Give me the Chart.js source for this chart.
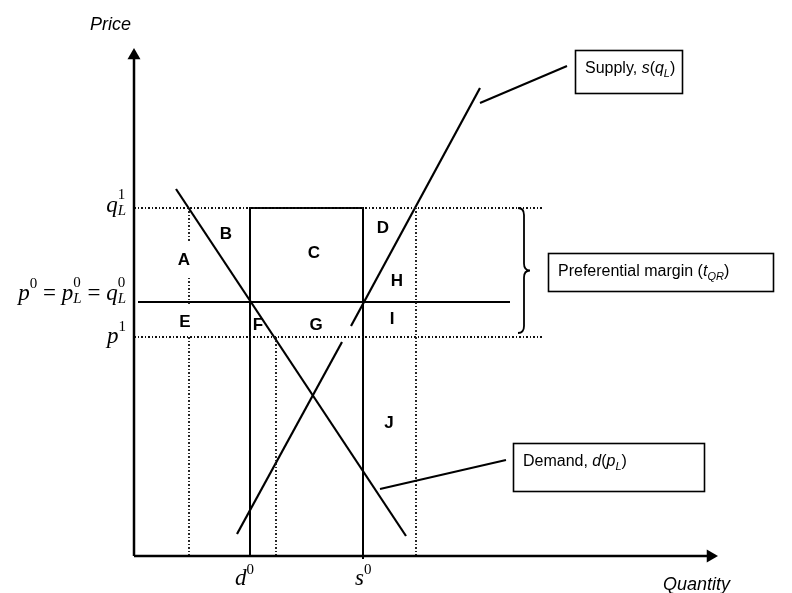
<!DOCTYPE html>
<html><head><meta charset="utf-8">
<script src="https://cdn.jsdelivr.net/npm/chart.js@4"></script>
<style>html,body{margin:0;padding:0;background:#fff}</style>
</head><body>
<canvas id="c" width="792" height="593"></canvas>
<script>
// ---------- data ----------
const xMax = 584, yMax = 508;
const d0 = 116, s0 = 229;            // quantities
const p0 = 254, p1 = 219, qL1 = 348; // prices
const dottedVX = [55, 142, 282];     // dotted vertical guides (quantity)
const dottedVTop = [348, 219, 348];  // their top price
const dottedHY = [qL1, p1];          // dotted horizontal guides
const dottedHEnd = 409;
const p0LineX = [4, 376];
const demandX = [42, 272], demandY = [367, 20];
const supplyLowX = [103, 208], supplyLowY = [22, 214];
const supplyHighX = [217, 346], supplyHighY = [230, 468];
const regionLabels = ['A','B','C','D','E','F','G','H','I','J'];
const regionX = [50, 92, 180, 249, 51, 124, 182, 263, 258, 255];
const regionY = [297, 323, 304, 329, 235, 232, 232, 276, 238, 134];

// ---------- datasets ----------
const pts = (xs, ys) => xs.map((x, i) => ({x, y: ys[i]}));
const base = {showLine: true, borderColor: '#000', pointRadius: 0, fill: false, clip: false, tension: 0};
const dot = {borderDash: [2, 2, 1, 2], borderWidth: 1.8, borderColor: '#111'};
const datasets = [];
datasets.push({...base, data: [{x:0,y:0},{x:0,y:yMax-7.5}], borderWidth: 2.5,
  pointRadius: [0, 7.5], pointStyle: 'triangle', pointBackgroundColor: '#000', pointBorderColor: '#000', pointBorderWidth: 0});
datasets.push({...base, data: [{x:0,y:0},{x:xMax-7.5,y:0}], borderWidth: 2.5,
  pointRadius: [0, 7.5], pointStyle: 'triangle', pointRotation: 90, pointBackgroundColor: '#000', pointBorderColor: '#000', pointBorderWidth: 0});
dottedHY.forEach(y => datasets.push({...base, ...dot, data: [{x:0,y},{x:dottedHEnd,y}]}));
dottedVX.forEach((x, i) => datasets.push({...base, ...dot, data: [{x,y:0},{x,y:dottedVTop[i]}]}));
datasets.push({...base, borderWidth: 2, data: [{x:p0LineX[0],y:p0},{x:p0LineX[1],y:p0}]});
datasets.push({...base, borderWidth: 2, data: [{x:d0,y:0},{x:d0,y:qL1},{x:s0,y:qL1},{x:s0,y:-3}]});
datasets.push({...base, borderWidth: 2.2, data: pts(demandX, demandY)});
datasets.push({...base, borderWidth: 2.2, data: pts(supplyLowX, supplyLowY)});
datasets.push({...base, borderWidth: 2.2, data: pts(supplyHighX, supplyHighY)});

// ---------- annotation geometry (data coords) ----------
const boxes = [
  {x1: 441, y1: 506, x2: 548, y2: 463, key: 'supply'},
  {x1: 379, y1: 113, x2: 570, y2: 65, key: 'demand'},
  {x1: 414, y1: 303, x2: 639, y2: 265, key: 'pref'}
];
const pointers = [
  [[346, 453], [433, 490]],
  [[246, 67], [372, 96]]
];
const brace = {x: 384, y1: 348, y2: 223, w: 12};

const SANS = '16px "Liberation Sans"', SANSI = 'italic 16px "Liberation Sans"', SUBI = 'italic 11px "Liberation Sans"';
const SI = 'italic 23px "Liberation Serif"', SR = '23px "Liberation Serif"', SS = '15px "Liberation Serif"', SSI = 'italic 15px "Liberation Serif"';
const boxText = {
  supply: [{t:'Supply, ',f:SANS},{t:'s',f:SANSI},{t:'(',f:SANS},{t:'q',f:SANSI},{t:'L',f:SUBI,dy:4},{t:')',f:SANS}],
  demand: [{t:'Demand, ',f:SANS},{t:'d',f:SANSI},{t:'(',f:SANS},{t:'p',f:SANSI},{t:'L',f:SUBI,dy:4},{t:')',f:SANS}],
  pref: [{t:'Preferential margin (',f:SANS},{t:'t',f:SANSI},{t:'QR',f:SUBI,dy:4},{t:')',f:SANS}]
};

function partWidth(ctx, p) {
  if (p.stack) return Math.max(...p.stack.map(s => { ctx.font = s.f; return ctx.measureText(s.t).width; }));
  ctx.font = p.f; return ctx.measureText(p.t).width;
}
function rich(ctx, x, y, parts, alignRight) {
  const total = parts.reduce((a, p) => a + partWidth(ctx, p), 0);
  let cx = alignRight ? x - total : x;
  ctx.textBaseline = 'alphabetic'; ctx.textAlign = 'left'; ctx.fillStyle = '#000';
  parts.forEach(p => {
    const w = partWidth(ctx, p);
    (p.stack || [p]).forEach(s => { ctx.font = s.f; ctx.fillText(s.t, cx, y + (s.dy || 0)); });
    cx += w;
  });
}

const annot = {
  id: 'annot',
  afterDatasetsDraw(chart) {
    const ctx = chart.ctx, xs = chart.scales.x, ys = chart.scales.y;
    const X = v => xs.getPixelForValue(v), Y = v => ys.getPixelForValue(v);
    ctx.save();
    ctx.fillStyle = '#fff';
    ctx.fillRect(X(dottedVX[0]) - 6, Y(313), 12, Y(279) - Y(313));
    ctx.fillRect(X(dottedVX[0]) - 6, Y(251), 12, Y(221) - Y(251));
    ctx.fillStyle = '#000'; ctx.font = 'bold 17px "Liberation Sans"';
    ctx.textAlign = 'center'; ctx.textBaseline = 'middle';
    regionLabels.forEach((l, i) => ctx.fillText(l, X(regionX[i]), Y(regionY[i]) + 1));
    ctx.strokeStyle = '#000'; ctx.lineWidth = 1.6;
    boxes.forEach(b => {
      const l = X(b.x1), t = Y(b.y1), r = X(b.x2), bt = Y(b.y2);
      ctx.strokeRect(Math.round(l)+0.5, Math.round(t)+0.5, Math.round(r-l), Math.round(bt-t));
      rich(ctx, l + 10, t + 23, boxText[b.key]);
    });
    ctx.lineWidth = 2;
    pointers.forEach(p => { ctx.beginPath(); ctx.moveTo(X(p[0][0]), Y(p[0][1])); ctx.lineTo(X(p[1][0]), Y(p[1][1])); ctx.stroke(); });
    const bx = X(brace.x), ty = Y(brace.y1), by = Y(brace.y2), w = X(brace.x + brace.w) - bx, my = (ty + by) / 2;
    ctx.lineWidth = 1.8; ctx.beginPath();
    ctx.moveTo(bx, ty);
    ctx.quadraticCurveTo(bx + w*0.5, ty, bx + w*0.5, ty + 7);
    ctx.lineTo(bx + w*0.5, my - 7);
    ctx.quadraticCurveTo(bx + w*0.5, my, bx + w, my);
    ctx.quadraticCurveTo(bx + w*0.5, my, bx + w*0.5, my + 7);
    ctx.lineTo(bx + w*0.5, by - 7);
    ctx.quadraticCurveTo(bx + w*0.5, by, bx, by);
    ctx.stroke();
    ctx.fillStyle = '#000'; ctx.textAlign = 'left'; ctx.textBaseline = 'alphabetic';
    ctx.font = 'italic 18px "Liberation Sans"';
    ctx.fillText('Price', X(0) - 44, 30);
    ctx.fillText('Quantity', X(xMax) - 55, 590);
    const right = X(0) - 8;
    rich(ctx, right, Y(qL1) + 4, [{t:'q',f:SI},{stack:[{t:'L',f:SSI,dy:3},{t:'1',f:SS,dy:-13}]}], true);
    rich(ctx, right, Y(p0) - 2, [{t:'p',f:SI},{t:'0',f:SS,dy:-12},{t:' = ',f:SR},{t:'p',f:SI},
      {stack:[{t:'L',f:SSI,dy:3},{t:'0',f:SS,dy:-13}]},{t:' = ',f:SR},{t:'q',f:SI},{stack:[{t:'L',f:SSI,dy:3},{t:'0',f:SS,dy:-13}]}], true);
    rich(ctx, right, Y(p1) + 6, [{t:'p',f:SI},{t:'1',f:SS,dy:-12}], true);
    rich(ctx, X(d0) - 15, 585, [{t:'d',f:SI},{t:'0',f:SS,dy:-11}]);
    rich(ctx, X(s0) - 8, 585, [{t:'s',f:SI},{t:'0',f:SS,dy:-11}]);
    ctx.restore();
  }
};

new Chart(document.getElementById('c').getContext('2d'), {
  type: 'scatter',
  data: {datasets},
  options: {
    responsive: false, animation: false, devicePixelRatio: 1,
    layout: {padding: {left: 134, right: 74, top: 48, bottom: 37}},
    scales: {
      x: {type: 'linear', min: 0, max: xMax, display: false},
      y: {type: 'linear', min: 0, max: yMax, display: false}
    },
    plugins: {legend: {display: false}, tooltip: {enabled: false}},
    events: []
  },
  plugins: [annot]
});
</script>
</body></html>
